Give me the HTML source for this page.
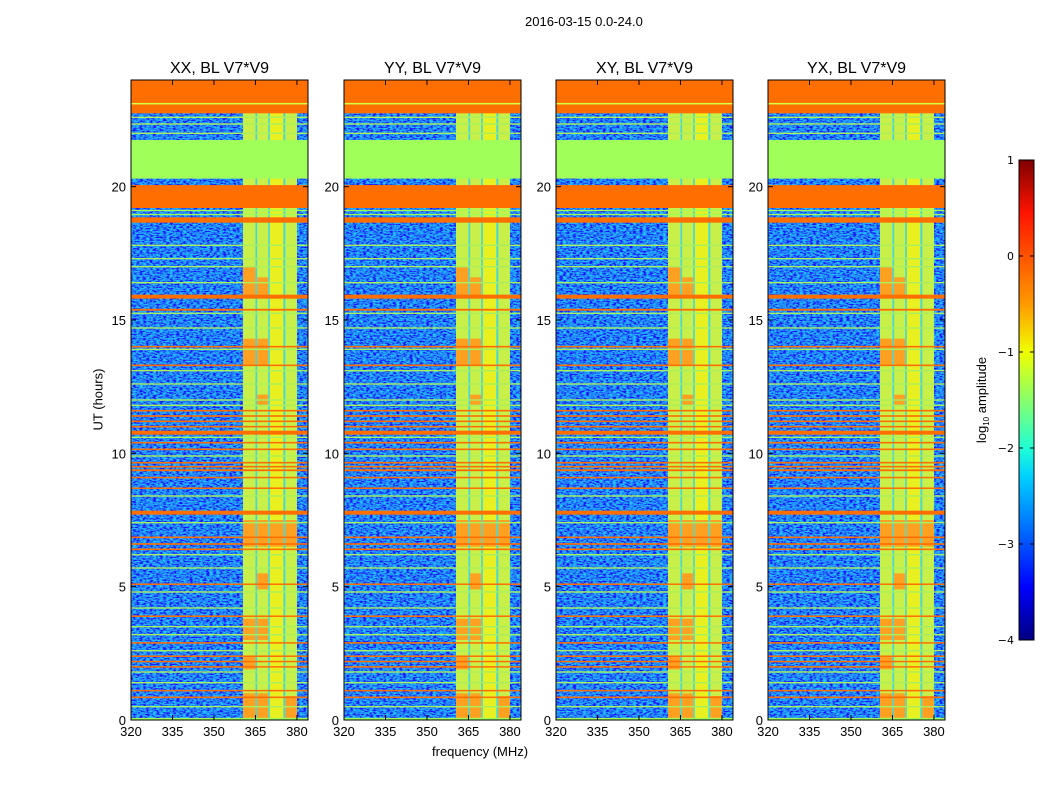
<!DOCTYPE html>
<html><head><meta charset="utf-8">
<style>
body{margin:0;background:#fff;width:1050px;height:800px;overflow:hidden;font-family:"Liberation Sans",sans-serif;}
#root{position:relative;width:1050px;height:800px;}
.t{position:absolute;font-size:13px;color:#000;white-space:nowrap;}
</style></head>
<body>
<div id="root">
<div class="t" style="left:525px;top:14px;">2016-03-15 0.0-24.0</div>
<div class="t" style="left:432px;top:744px;">frequency (MHz)</div>
<div class="t" style="left:48px;top:392px;transform:rotate(-90deg);transform-origin:center;width:100px;text-align:center;">UT (hours)</div>
<svg id="main" width="1050" height="800" style="position:absolute;left:0;top:0">
<defs>
<filter id="noise" x="0" y="0" width="100%" height="100%">
<feTurbulence type="fractalNoise" baseFrequency="0.3 0.7" numOctaves="2" seed="3"/>
<feColorMatrix type="matrix" values="0 0 0 0 0.02  2.6 0 0 0 -0.95  0 0 0 0 1  0 0 0 0 1"/>
</filter>
<linearGradient id="jet" x1="0" y1="1" x2="0" y2="0">
<stop offset="0" stop-color="#00007f"/><stop offset="0.11" stop-color="#0000ff"/>
<stop offset="0.34" stop-color="#00d0ff"/><stop offset="0.4" stop-color="#20ffd5"/>
<stop offset="0.6" stop-color="#f0ff00"/><stop offset="0.7" stop-color="#ff9a00"/>
<stop offset="0.89" stop-color="#ff1300"/><stop offset="1" stop-color="#7f0000"/>
</linearGradient>
</defs>
</svg>
</div>
<script>
// ---- data ----
const panelTitles = ["XX, BL V7*V9","YY, BL V7*V9","XY, BL V7*V9","YX, BL V7*V9"];
const panelLefts = [131,344,556,768];
const xTicks = [320,335,350,365,380];
const yTicks = [0,5,10,15,20];
const freqMin = 320, freqMax = 384, tMin = 0, tMax = 24;
// hot (RFI-free) band strips [fStart,fEnd]
const stripBands = [[360.5,365],[365.6,369.6],[370.2,375.1],[375.8,380]];
// strong orange time bands [tStart,tEnd]
const orangeBands = [[22.75,24],[19.2,20.06],[18.65,18.85],[15.8,15.95],[15.35,15.42],[13.97,14.03],[13.27,13.33],
 [11.57,11.63],[11.37,11.43],[11.17,11.23],[10.97,11.03],[10.7,10.85],[10.37,10.43],[10.12,10.18],[9.62,9.68],
 [9.47,9.53],[9.33,9.4],[9.08,9.12],[8.68,8.72],[7.7,7.85],[6.82,6.88],[6.57,6.63],[6.37,6.43],[5.07,5.12],
 [3.87,3.92],[2.87,2.92],[2.37,2.42],[2.17,2.22],[1.97,2.02],[1.08,1.13],[0.82,0.88]];
// green time bands
const greenBands = [[20.3,21.75],[23.08,23.14],[18.93,18.98],[19.08,19.13],[0,0.08]];
// thin green/yellow lines
const thinLines = [22.6,22.35,22.0,17.8,17.3,17.0,16.4,15.25,14.7,13.9,13.1,12.6,12.0,11.8,10.6,9.9,8.4,7.4,6.2,5.7,4.8,4.2,3.5,3.2,2.6,1.8,1.4,0.5];
// hot blocks inside strips: [tStart,tEnd,stripIndex]
const hotBlocks = [[13.3,14.3,0],[13.3,14.3,1],[15.9,17,0],[15.9,16.6,1],[6.5,7.5,0],[6.5,7.5,1],[6.5,7.5,2],[6.5,7.5,3],
 [0,1,0],[0,1,1],[0,0.9,3],[11.8,12.2,1],[3,3.8,0],[3,3.8,1],[1.9,2.4,0],[4.9,5.5,1]];

const svg = document.getElementById('main');
const NS = 'http://www.w3.org/2000/svg';
function mk(tag, attrs, parent){const e=document.createElementNS(NS,tag);for(const k in attrs)e.setAttribute(k,attrs[k]);(parent||svg).appendChild(e);return e;}
const PW=177, PT=80, PH=640;

panelTitles.forEach((title,pi)=>{
  const L = panelLefts[pi];
  const x = f => L + (f-freqMin)/(freqMax-freqMin)*PW;
  const y = t => PT + PH - (t-tMin)/(tMax-tMin)*PH;
  const g = mk('g',{});
  
  
  const bg = mk('rect',{x:L,y:PT,width:PW,height:PH,fill:'#0c40f0'},g);
  
  
  const nz = mk('rect',{x:L,y:PT,width:PW,height:PH,filter:'url(#noise)',opacity:0.75},g);
  
  
  const gap = mk('rect',{x:x(stripBands[0][0]),y:PT,width:x(stripBands[3][1])-x(stripBands[0][0]),height:PH,fill:'#40d8e0'},g);
  
  
  stripBands.forEach((b,si)=>{
    const r = mk('rect',{x:x(b[0]),y:PT,width:x(b[1])-x(b[0]),height:PH,fill:si==2?'#e8f020':'#c8f048'},g);
    
    
  });
  hotBlocks.forEach(h=>{
    const b = stripBands[h[2]];
    const r = mk('rect',{x:x(b[0]),y:y(h[1]),width:x(b[1])-x(b[0]),height:y(h[0])-y(h[1]),fill:'#ffa020'},g);
    
    
  });
  thinLines.forEach(t=>{
    const r = mk('rect',{x:L,y:y(t)-0.7,width:PW,height:1.4,fill:'#a8f060'},g);
    
    
  });
  greenBands.forEach(b=>{
    const r = mk('rect',{x:L,y:y(b[1]),width:PW,height:y(b[0])-y(b[1]),fill:'#a0ff58'},g);
    
    
  });
  orangeBands.forEach(b=>{
    const r = mk('rect',{x:L,y:y(b[1]),width:PW,height:Math.max(1.5,y(b[0])-y(b[1])),fill:'#ff6e00'},g);
    
    
  });
  const yl = mk('rect',{x:L,y:y(23.14),width:PW,height:1.5,fill:'#d8ff40'},g);
  
  
  const fr = mk('rect',{x:L,y:PT,width:PW,height:PH,fill:'none',stroke:'#000','stroke-width':1},g);
  
  
  xTicks.forEach(f=>{
    mk('line',{x1:x(f),x2:x(f),y1:PT+PH,y2:PT+PH-5,stroke:'#000'},g);
    mk('line',{x1:x(f),x2:x(f),y1:PT,y2:PT+5,stroke:'#000'},g);
    const tx = mk('text',{x:x(f),y:PT+PH+16,'text-anchor':'middle','font-size':13,'font-family':'Liberation Sans, sans-serif'},g);
    tx.textContent=f;
    
    
  });
  yTicks.forEach(t=>{
    mk('line',{x1:L,x2:L+5,y1:y(t),y2:y(t),stroke:'#000'},g);
    mk('line',{x1:L+PW,x2:L+PW-5,y1:y(t),y2:y(t),stroke:'#000'},g);
    const tx = mk('text',{x:L-5,y:y(t)+5,'text-anchor':'end','font-size':13,'font-family':'Liberation Sans, sans-serif'},g);
    tx.textContent=t;
    
    
  });
  const tt = mk('text',{x:L+PW/2,y:PT-7,'text-anchor':'middle','font-size':16,'font-family':'Liberation Sans, sans-serif'},g);
  tt.textContent=title;
  
  
});

// colorbar
const cbTicks = [1,0,-1,-2,-3,-4];
const cbX=1019, cbW=15, cbTop=160, cbH=480, cbMin=-4, cbMax=1;
const cy = v => cbTop + (cbMax-v)/(cbMax-cbMin)*cbH;
const cb = mk('rect',{x:cbX,y:cbTop,width:cbW,height:cbH,fill:'url(#jet)',stroke:'#000','stroke-width':1});


cbTicks.forEach(v=>{
  mk('line',{x1:cbX,x2:cbX+4,y1:cy(v),y2:cy(v),stroke:'#000'});
  mk('line',{x1:cbX+cbW,x2:cbX+cbW-4,y1:cy(v),y2:cy(v),stroke:'#000'});
  const tx = mk('text',{x:1014,y:cy(v)+4,'text-anchor':'end','font-size':11,'font-family':'DejaVu Sans, sans-serif'});
  tx.textContent = v<0 ? '\u2212'+(-v) : String(v);
  
  
});
const cl = mk('text',{transform:'translate(986,400) rotate(-90)','text-anchor':'middle','font-size':13,'font-family':'Liberation Sans, sans-serif'});
cl.innerHTML = 'log<tspan font-size="8" dy="3">10</tspan><tspan dy="-3"> amplitude</tspan>';


</script>
</body></html>
